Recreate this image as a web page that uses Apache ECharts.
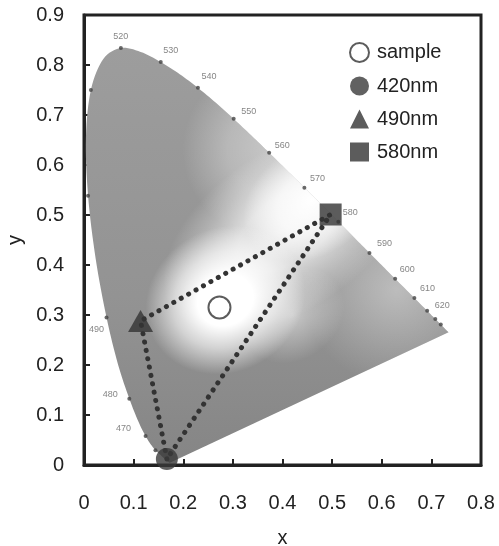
<!DOCTYPE html>
<html><head><meta charset="utf-8">
<script src="https://cdn.jsdelivr.net/npm/echarts@6/dist/echarts.min.js"></script>
<style>html,body{margin:0;padding:0;background:#fff}#c{width:499px;height:546px}</style>
</head><body><div id="c"></div>
<script>
// CIE 1931 spectral locus (wavelength nm, x, y)
const locusWl = [380,420,440,450,460,465,470,475,480,485,490,495,500,505,510,515,520,525,530,535,540,545,550,555,560,565,570,575,580,585,590,595,600,605,610,620,630,640,650,700];
const locusX = [0.1741,0.1714,0.1644,0.1566,0.1440,0.1355,0.1241,0.1096,0.0913,0.0687,0.0454,0.0235,0.0082,0.0039,0.0139,0.0389,0.0743,0.1142,0.1547,0.1929,0.2296,0.2658,0.3016,0.3373,0.3731,0.4087,0.4441,0.4788,0.5125,0.5448,0.5752,0.6029,0.6270,0.6482,0.6658,0.6915,0.7079,0.7190,0.7260,0.7347];
const locusY = [0.0050,0.0051,0.0109,0.0177,0.0297,0.0399,0.0578,0.0868,0.1327,0.2007,0.2950,0.4127,0.5384,0.6548,0.7502,0.8120,0.8338,0.8262,0.8059,0.7816,0.7543,0.7243,0.6923,0.6589,0.6245,0.5896,0.5547,0.5202,0.4866,0.4544,0.4242,0.3965,0.3725,0.3514,0.3340,0.3083,0.2920,0.2809,0.2740,0.2653];
// wavelengths marked by a dot on the locus, and those also labelled
const dotWl = [460,470,480,490,500,510,520,530,540,550,560,570,580,590,600,610,620,630,640];
const labelWl = [470,480,490,520,530,540,550,560,570,580,590,600,610,620];
// measured points
const sampleData = [[0.273,0.315]];
const nm420Data = [[0.167,0.012]];
const nm490Data = [[0.114,0.288]];
const nm580Data = [[0.497,0.501]];
const seriesNames = ['sample','420nm','490nm','580nm'];
const xTicks = [0,0.1,0.2,0.3,0.4,0.5,0.6,0.7,0.8];
const yTicks = [0,0.1,0.2,0.3,0.4,0.5,0.6,0.7,0.8,0.9];

// label offsets (style only)
const labelOffset = {470:[-22,-8],480:[-19,-4],490:[-10,12],520:[0,-12],530:[10,-12],540:[11,-11],550:[15,-7],560:[13,-7],570:[13,-9],580:[12,-9],590:[15,-9],600:[12,-9],610:[13,-9],620:[15,-5]};

const chart = echarts.init(document.getElementById('c'), null, {renderer:'canvas'});
const txt = '#222';
const font = 'Liberation Sans, Arial, sans-serif';

const dotPoints = dotWl.map(w => {
  const i = locusWl.indexOf(w);
  const lbl = labelWl.indexOf(w) >= 0;
  return {
    value: [locusX[i], locusY[i]],
    label: lbl ? {show:true, formatter: String(w), position:'inside', offset: labelOffset[w]} : {show:false}
  };
});

const triangleLine = [nm420Data[0], nm490Data[0], nm580Data[0], nm420Data[0]];

// smooth rendering of the pixel path through the locus points (Catmull-Rom)
function smoothPath(p){
  const out = [];
  const n = p.length;
  for (let i=0;i<n-1;i++){
    const p0 = p[Math.max(i-1,0)], p1 = p[i], p2 = p[i+1], p3 = p[Math.min(i+2,n-1)];
    const steps = 8;
    for (let s=0;s<steps;s++){
      const t = s/steps, t2=t*t, t3=t2*t;
      const f = (a,b,c,d)=>0.5*((2*b)+(-a+c)*t+(2*a-5*b+4*c-d)*t2+(-a+3*b-3*c+d)*t3);
      out.push([f(p0[0],p1[0],p2[0],p3[0]), f(p0[1],p1[1],p2[1],p3[1])]);
    }
  }
  out.push(p[n-1]);
  return out;
}

function stopsOf(s){ return s.map(a=>({offset:a[0], color:'rgba(255,255,255,'+a[1]+')'})); }
function ellipseGlow(c, rx, ry, rot, stops){
  return {type:'circle', shape:{cx:0, cy:0, r:1}, x:c[0], y:c[1], scaleX:rx, scaleY:ry, rotation:rot,
    style:{fill:{type:'radial', x:0.5, y:0.5, r:0.5, colorStops:stopsOf(stops)}}};
}

chart.setOption({
  animation:false,
  backgroundColor:'#fff',
  textStyle:{fontFamily:font},
  grid:{left:84,right:18,top:15,bottom:81,show:true,borderColor:txt,borderWidth:3,backgroundColor:'transparent',outerBoundsMode:'none',containLabel:false},
  legend:{
    orient:'vertical', left:344, top:37, itemWidth:19, itemHeight:19, itemGap:13,
    textStyle:{fontSize:20,color:txt,fontFamily:font,padding:[0,0,0,3]},
    data:[
      {name:'sample',icon:'circle'},
      {name:'420nm',icon:'circle'},
      {name:'490nm',icon:'triangle'},
      {name:'580nm',icon:'rect'}
    ]
  },
  xAxis:{
    type:'value', min:0, max:0.8, interval:0.1,
    name:'x', nameLocation:'middle', nameGap:63,
    nameTextStyle:{fontSize:20,color:txt},
    axisLine:{lineStyle:{color:txt,width:3}},
    axisTick:{inside:true,length:6,lineStyle:{color:txt,width:2}},
    axisLabel:{fontSize:20,color:txt,margin:28,formatter:v=>v===0?'0':v.toFixed(1)},
    splitLine:{show:false}
  },
  yAxis:{
    type:'value', min:0, max:0.9, interval:0.1,
    name:'y', nameLocation:'middle', nameGap:58,
    nameTextStyle:{fontSize:20,color:txt},
    axisLine:{lineStyle:{color:txt,width:3}},
    axisTick:{inside:true,length:6,lineStyle:{color:txt,width:2}},
    axisLabel:{fontSize:20,color:txt,margin:20,formatter:v=>v===0?'0':v.toFixed(1)},
    splitLine:{show:false}
  },
  series:[
    {
      type:'custom', name:'locus', silent:true, z:1,
      data: locusX.map((x,i)=>[x, locusY[i]]),
      renderItem:(params, api)=>{
        if (params.dataIndex !== 0) return null;
        const pts = smoothPath(locusX.map((x,i)=>api.coord([x, locusY[i]])));
        const top = api.coord([0,0.84]), bot = api.coord([0,0]);
        const shape = {points:pts};
        const clip = {type:'polygon', shape:{points:pts}};
        const cR = api.coord([0.63,0.35]), cT = api.coord([0.38,0.63]);
        return {type:'group', children:[
          {type:'polygon', shape:shape, style:{
            fill:{type:'linear', x:0, y:top[1], x2:0, y2:bot[1], global:true,
              colorStops:[{offset:0,color:'#9d9d9d'},{offset:0.6,color:'#939393'},{offset:1,color:'#858585'}]}}},
          {type:'polygon', shape:shape, style:{fill:{type:'radial', x:cR[0], y:cR[1], r:95, global:true, colorStops:stopsOf([[0,0.38],[1,0]])}}},
          {type:'polygon', shape:shape, style:{fill:{type:'radial', x:cT[0], y:cT[1], r:90, global:true, colorStops:stopsOf([[0,0.45],[0.5,0.3],[1,0]])}}},
          {type:'group', clipPath: clip, children:[
            ellipseGlow(api.coord([0.41,0.47]), 140, 80, 0.6, [[0,0.8],[0.4,0.65],[0.75,0.25],[1,0]]),
            ellipseGlow(api.coord([0.46,0.53]), 75, 55, 0.6, [[0,1],[0.5,0.7],[1,0]]),
            ellipseGlow(api.coord([0.42,0.30]), 55, 45, 0.6, [[0,0.5],[1,0]]),
            ellipseGlow(api.coord([0.285,0.33]), 82, 72, 0.5, [[0,1],[0.35,1],[0.65,0.6],[1,0]])
          ]}
        ]};
      }
    },
    {
      type:'scatter', name:'marks', silent:true, z:2,
      symbol:'circle', symbolSize:4,
      itemStyle:{color:'#444'},
      label:{fontSize:9,color:'#666',fontFamily:font},
      data: dotPoints
    },
    {
      type:'line', name:'triangle', silent:true, z:3,
      symbol:'none',
      lineStyle:{color:'#333',width:5,type:[0.1,8.4],cap:'round'},
      data: triangleLine
    },
    {type:'scatter', name:seriesNames[0], z:5, symbol:'circle', symbolSize:22,
      itemStyle:{color:'#fff',borderColor:'#333',borderWidth:2}, data:sampleData},
    {type:'scatter', name:seriesNames[1], z:5, symbol:'circle', symbolSize:22,
      itemStyle:{color:'#3a3a3a'}, data:nm420Data},
    {type:'scatter', name:seriesNames[2], z:5, symbol:'triangle', symbolSize:[25,22],
      itemStyle:{color:'#333'}, data:nm490Data},
    {type:'scatter', name:seriesNames[3], z:5, symbol:'rect', symbolSize:22,
      itemStyle:{color:'#333'}, data:nm580Data}
  ]
});
</script>
</body></html>
